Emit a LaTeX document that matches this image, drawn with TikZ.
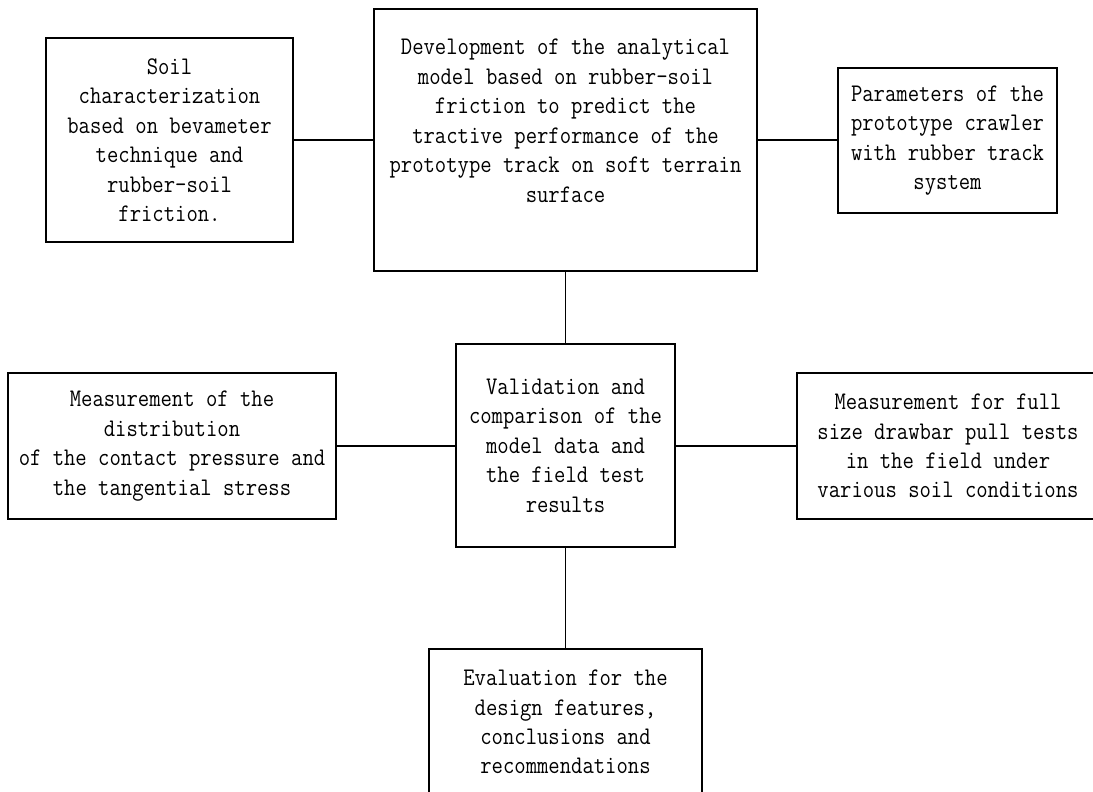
\documentclass[tikz,border=0pt]{standalone}
\usepackage{fontspec}
\newfontfamily\diagfont[FakeStretch=0.87]{Latin Modern Mono}
\begin{document}
\begin{tikzpicture}[x=0.75pt,y=-0.75pt,
  box/.style={draw=black, line width=0.8pt, rectangle, inner sep=0pt, align=center,
    font=\diagfont\fontsize{19}{22.1}\selectfont, text=black},
  link/.style={draw=black, line width=0.8pt}]
\path[use as bounding box] (0,0) rectangle (1093,792);
\begin{scope}
\clip (0,0) rectangle (1093,792);
\node[box, minimum width=247*0.75pt, minimum height=204*0.75pt] (soil) at (169.5,140)
  {Soil\\characterization\\based on bevameter\\technique and\\rubber-soil\\friction.};
\node[box, minimum width=383*0.75pt, minimum height=262*0.75pt] (dev) at (565.5,140)
  {Development of the analytical\\model based on rubber-soil\\friction to predict the\\tractive performance of the\\prototype track on soft terrain\\surface\\\strut};
\node[box, minimum width=219*0.75pt, minimum height=145*0.75pt] (params) at (947.5,140.5)
  {Parameters of the\\prototype crawler\\with rubber track\\system};
\node[box, minimum width=219*0.75pt, minimum height=203*0.75pt] (val) at (565.5,445.5)
  {Validation and\\comparison of the\\model data and\\the field test\\results};
\node[box, minimum width=328*0.75pt, minimum height=146*0.75pt] (meas1) at (172,446)
  {Measurement of the\\distribution\\of the contact pressure and\\the tangential stress};
\node[box, minimum width=302*0.75pt, minimum height=146*0.75pt] (meas2) at (948,446)
  {Measurement for full\\size drawbar pull tests\\in the field under\\various soil conditions};
\node[box, minimum width=273*0.75pt, minimum height=146*0.75pt] (eval) at (565.5,722)
  {Evaluation for the\\design features,\\conclusions and\\recommendations};
\draw[link] (soil.east) -- (dev.west |- soil.east);
\draw[link] (dev.east) -- (params.west |- dev.east);
\draw[link] (dev.south) -- (val.north);
\draw[link] (meas1.east) -- (val.west |- meas1.east);
\draw[link] (val.east |- meas2.west) -- (meas2.west);
\draw[link] (val.south) -- (eval.north);
\end{scope}
\end{tikzpicture}
\end{document}
